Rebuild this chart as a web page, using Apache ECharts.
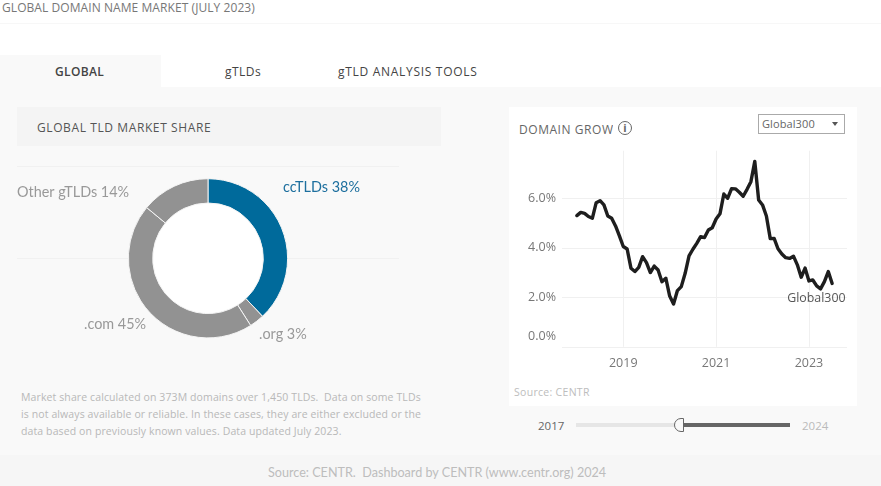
<!DOCTYPE html>
<html lang="en">
<head>
    <meta charset="UTF-8">
    <title>Global Domain Name Market</title>
    <style>
        *{
            margin: 0;
            padding: 0;
            box-sizing: border-box;
        }
        html,body{
            width: 881px;
            height: 486px;
            overflow: hidden;
            background: #fff;
            font-family: "Open Sans", sans-serif;
        }
        .abs{
            position: absolute;
            white-space: nowrap;
        }
        #head{left: 2px;top: 0;font-size: 12px;line-height: 16px;color: #777;letter-spacing: .07px;}
        #headLine{left: 0;top: 23px;width: 881px;height: 1px;background: #f7f7f7;}
        #panel{left: 0;top: 87px;width: 881px;height: 368px;background: #f9f9f9;}
        #tabOn{left: 0;top: 55px;width: 161px;height: 32px;background: #f9f9f9;}
        .tab{top: 63px;font-size: 12px;line-height: 18px;color: #444;}
        #shareHead{left: 17px;top: 107px;width: 424px;height: 39px;background: #f4f4f4;}
        #shareTitle{left: 37px;top: 119px;font-size: 12px;line-height: 17px;color: #555;letter-spacing: .6px;}
        .rule{left: 17px;width: 382px;height: 1px;background: #f1f1f1;}
        #note{left: 21px;top: 389px;font-size: 10.5px;line-height: 17px;color: #b8b8b8;letter-spacing: .11px;}
        #foot{left: 0;top: 455px;width: 881px;height: 31px;background: #f6f6f6;}
        #footText{left: 268px;top: 464px;font-family: Lato, sans-serif;font-size: 12.6px;line-height: 18px;color: #bdbdbd;}
        #card{left: 509px;top: 107px;width: 348px;height: 299px;background: #fff;}
        #growTitle{left: 519px;top: 121px;width: 94px;overflow: hidden;font-size: 12px;line-height: 17px;color: #666;letter-spacing: .55px;}
        #info{left: 618px;top: 121px;width: 14px;height: 14px;border: 1.5px solid #666;border-radius: 50%;font: bold 11px/11px "Open Sans", sans-serif;color: #666;text-align: center;}
        #pick{left: 758px;top: 114px;width: 87px;height: 20px;border: 1px solid #aaa;background: #fff;font-size: 11px;line-height: 17px;color: #666;padding-left: 3px;letter-spacing: .1px;}
        #arrow{left: 832px;top: 122px;width: 0;height: 0;border-left: 3.5px solid transparent;border-right: 3.5px solid transparent;border-top: 4px solid #555;}
        #source{left: 514px;top: 384px;font-size: 10.5px;line-height: 16px;color: #bdbdbd;letter-spacing: .3px;}
        #from{left: 538px;top: 417px;font-size: 11.5px;line-height: 17px;color: #666;}
        #to{left: 802px;top: 417px;font-size: 11.5px;line-height: 17px;color: #bbb;}
        #trackOff{left: 576px;top: 423px;width: 104px;height: 4px;background: #e6e6e6;}
        #trackOn{left: 680px;top: 423px;width: 110px;height: 4px;background: #666;}
        #knob{left: 674px;top: 418px;width: 10px;height: 14px;background: #f9f9f9;border: 1px solid #666;border-radius: 7px 0 0 7px;}
        #pie{left: 0;top: 150px;width: 440px;height: 200px;}
        #growth{left: 509px;top: 140px;width: 348px;height: 240px;}
    </style>
</head>
<body>
<div class="abs" id="head">GLOBAL DOMAIN NAME MARKET (JULY 2023)</div>
<div class="abs" id="headLine"></div>
<div class="abs" id="panel"></div>
<div class="abs" id="tabOn"></div>
<div class="abs tab" style="left: 55px;font-weight: 600;letter-spacing: .35px;">GLOBAL</div>
<div class="abs tab" style="left: 225px;letter-spacing: .45px;">gTLDs</div>
<div class="abs tab" style="left: 338px;letter-spacing: .7px;">gTLD ANALYSIS TOOLS</div>
<div class="abs" id="shareHead"></div>
<div class="abs" id="shareTitle">GLOBAL TLD MARKET SHARE</div>
<div class="abs rule" style="top: 166px;"></div>
<div class="abs rule" style="top: 258px;"></div>
<div class="abs" id="pie"></div>
<div class="abs" id="note">Market share calculated on 373M domains over 1,450 TLDs.&nbsp; Data on some TLDs<br>is not always available or reliable. In these cases, they are either excluded or the<br>data based on previously known values. Data updated July 2023.</div>
<div class="abs" id="foot"></div>
<div class="abs" id="footText">Source: CENTR.&nbsp; Dashboard by CENTR (www.centr.org) 2024</div>
<div class="abs" id="card"></div>
<div class="abs" id="growth"></div>
<div class="abs" id="growTitle">DOMAIN GROWTH</div>
<div class="abs" id="info">i</div>
<div class="abs" id="pick">Global300</div>
<div class="abs" id="arrow"></div>
<div class="abs" id="source">Source: CENTR</div>
<div class="abs" id="from">2017</div>
<div class="abs" id="to">2024</div>
<div class="abs" id="trackOff"></div>
<div class="abs" id="trackOn"></div>
<div class="abs" id="knob"></div>

<script src="https://cdn.jsdelivr.net/npm/echarts@6/dist/echarts.min.js"></script>
<script type="text/javascript">
    // market share
    var tldNames = ['ccTLDs', '.org', '.com', 'Other gTLDs'];
    var tldShares = [38, 3, 45, 14];
    var tldColors = ['#006a9b', '#929292', '#929292', '#929292'];

    // monthly growth, first value is 2018-01, last is 2023-07
    var growthStartYear = 2018;
    var growthValues = [
        5.30, 5.43, 5.39, 5.26, 5.19, 5.82, 5.90, 5.73, 5.28, 5.19, 4.88, 4.48,
        4.05, 3.95, 3.17, 3.04, 3.21, 3.64, 3.40, 3.00, 3.26, 3.10, 2.63, 2.77,
        2.05, 1.73, 2.27, 2.43, 2.97, 3.67, 3.94, 4.18, 4.45, 4.41, 4.72, 4.81,
        5.16, 5.37, 6.17, 6.00, 6.39, 6.38, 6.24, 6.08, 6.36, 6.67, 7.49, 5.93,
        5.73, 5.28, 4.37, 4.38, 3.96, 3.75, 3.60, 3.57, 3.66, 3.31, 2.81, 3.18,
        2.66, 2.70, 2.46, 2.34, 2.63, 3.04, 2.56
    ];
    var yearTicks = [2019, 2021, 2023];
    var percentTicks = [0, 2, 4, 6];

    var growthData = [];
    for(let i = 0;i<growthValues.length;i++){
        growthData.push([growthStartYear + i / 12, growthValues[i]]);
    }

    var pieChart = echarts.init(document.getElementById('pie'));
    var growthChart = echarts.init(document.getElementById('growth'));

    // label spots picked by hand, tableau places them by itself
    var labelSpots = [[283, 37], [259, 184], [84, 174], [17, 42]];
    var pieData = [];
    for(let i = 0;i<tldNames.length;i++){
        pieData.push({
            name: tldNames[i],
            value: tldShares[i],
            itemStyle: {color: tldColors[i]},
            label: {color: i == 0 ? '#1d6f9e' : '#999'}
        });
    }

    pieChart.setOption({
        animation: false,
        graphic: [{
            type: 'circle',
            z: 0,
            shape: {cx: 208, cy: 108.3, r: 56},
            style: {fill: '#fff'}
        }],
        series: [{
            type: 'pie',
            center: [208, 108.3],
            radius: [55.3, 79.6],
            startAngle: 90,
            clockwise: true,
            silent: true,
            itemStyle: {borderColor: '#f4f4f4', borderWidth: 1},
            label: {
                show: true,
                formatter: function(p){ return p.name + ' ' + p.value + '%'; },
                fontFamily: 'Lato, sans-serif',
                fontSize: 14.4
            },
            labelLine: {show: false},
            labelLayout: function(p){
                return {
                    x: labelSpots[p.dataIndex][0],
                    y: labelSpots[p.dataIndex][1],
                    align: 'left',
                    verticalAlign: 'middle'
                };
            },
            data: pieData
        }]
    });

    growthChart.setOption({
        animation: false,
        grid: {left: 53, right: 10, top: 10.7, height: 196.1},
        xAxis: {
            type: 'value',
            min: 2017.68,
            max: 2023.82,
            axisLine: {show: false},
            axisTick: {show: false, customValues: yearTicks},
            axisLabel: {
                customValues: yearTicks,
                formatter: function(v){ return String(v); },
                color: '#777',
                fontFamily: 'Open Sans, sans-serif',
                fontSize: 12.5,
                margin: 10
            },
            splitLine: {show: true, lineStyle: {color: '#f0f0f0'}}
        },
        yAxis: {
            type: 'value',
            min: 0,
            max: 7.92,
            axisLine: {show: false},
            axisTick: {show: false, customValues: percentTicks},
            axisLabel: {
                customValues: percentTicks,
                // the 0.0% label sits above its gridline in the original
                formatter: function(v){
                    return v == 0 ? '{low|0.0%}' : v.toFixed(1) + '%';
                },
                rich: {
                    low: {
                        color: '#777',
                        fontFamily: 'Open Sans, sans-serif',
                        fontSize: 12.5,
                        padding: [0, 0, 4, 0]
                    }
                },
                color: '#777',
                fontFamily: 'Open Sans, sans-serif',
                fontSize: 12.5,
                margin: 6,
                verticalAlignMinLabel: 'bottom'
            },
            splitLine: {show: true, lineStyle: {color: '#f0f0f0'}}
        },
        series: [{
            name: 'Global300',
            type: 'line',
            showSymbol: false,
            silent: true,
            data: growthData,
            lineStyle: {color: '#1e1e1e', width: 3.4, join: 'round', cap: 'round'},
            endLabel: {
                show: true,
                formatter: '{a}',
                color: '#555',
                fontFamily: 'Open Sans, sans-serif',
                fontSize: 12.4,
                distance: 0,
                offset: [-45, 15]
            }
        }]
    });
</script>
</body>
</html>
